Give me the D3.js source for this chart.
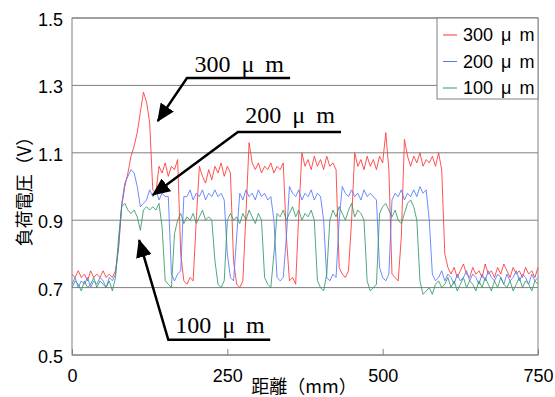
<!DOCTYPE html>
<html>
<head>
<meta charset="utf-8">
<script src="https://cdn.jsdelivr.net/npm/d3@7"></script>
<style>
  body { margin: 0; background: #fff; }
</style>
</head>
<body>
<div id="chart"></div>
<script>
// sample positions along the track, every 5 mm
const distance = d3.range(0, 751, 5);

// load voltage (V)
const v300 = [
  0.74,0.73,0.75,0.73,0.74,0.72,0.75,0.73,0.74,0.73,0.75,0.73,0.74,0.73,0.75,
  0.82,0.94,1.00,1.04,1.09,1.12,1.16,1.22,1.28,1.25,1.19,
  0.99,0.98,1.06,1.04,1.07,1.03,1.06,1.05,1.08,
  0.80,0.72,0.71,0.73,0.72,
  0.90,1.06,1.03,1.01,1.05,1.02,1.06,1.04,1.07,1.03,1.06,1.04,
  0.78,0.71,0.70,0.72,
  0.92,1.13,1.07,1.05,1.07,1.04,1.06,1.05,1.07,1.04,1.06,1.05,1.07,
  0.85,0.72,0.73,0.71,
  0.92,1.10,1.06,1.08,1.05,1.09,1.06,1.08,1.05,1.09,1.06,1.07,1.05,
  0.76,0.74,0.73,0.75,
  0.90,1.10,1.06,1.08,1.05,1.09,1.06,1.08,1.05,1.09,1.07,1.16,1.05,
  0.74,0.73,0.72,
  0.85,1.14,1.09,1.06,1.09,1.07,1.10,1.06,1.08,1.07,1.09,1.06,1.10,1.05,
  0.80,0.76,0.74,0.76,0.73,0.75,0.77,0.74,0.73,0.76,0.74,0.75,0.73,0.77,0.74,0.75,
  0.73,0.76,0.74,0.77,0.75,0.73,0.76,0.74,0.75,0.73,0.76,0.74,0.75,0.73,0.76
];
const v200 = [
  0.71,0.73,0.70,0.72,0.71,0.73,0.70,0.72,0.71,0.73,0.72,0.70,0.73,0.72,0.74,
  0.82,0.95,1.01,1.03,1.05,1.04,1.00,0.94,0.95,0.96,0.99,0.97,0.99,0.96,0.98,0.97,0.97,
  0.74,0.72,0.74,0.75,
  0.97,0.97,0.99,0.96,0.98,0.97,0.99,0.96,0.98,0.97,0.99,0.97,0.98,0.96,
  0.80,0.73,0.72,
  0.85,0.98,0.96,0.99,0.97,0.98,0.96,0.99,0.97,0.98,0.96,0.97,
  0.90,0.73,0.72,0.73,
  0.85,1.00,0.98,0.97,0.99,0.96,0.98,0.97,0.99,0.96,0.98,0.97,0.90,
  0.73,0.72,0.74,0.73,
  0.90,1.00,0.98,0.97,0.99,0.97,0.98,0.96,0.99,0.97,0.98,0.97,0.96,
  0.76,0.73,0.72,0.74,
  0.96,0.98,0.97,0.99,0.96,0.98,0.97,0.99,0.97,1.00,0.98,0.99,0.90,
  0.74,0.72,0.73,0.75,0.72,0.74,0.73,0.71,0.74,0.72,0.73,0.75,0.72,0.74,0.73,0.71,0.74,0.72,
  0.75,0.73,0.72,0.74,0.73,0.71,0.74,0.72,0.73,0.75,0.72,0.74,0.73,0.71,0.74,0.72,0.73
];
const v100 = [
  0.70,0.72,0.71,0.69,0.72,0.70,0.71,0.73,0.70,0.72,0.71,0.70,0.72,0.69,0.73,
  0.85,0.94,0.95,0.93,0.92,0.93,0.91,0.87,0.93,0.94,0.93,0.94,0.93,0.95,
  0.88,0.72,0.71,0.70,
  0.86,0.90,0.92,0.89,0.91,0.90,0.92,0.89,0.91,0.93,0.90,0.91,0.90,
  0.78,0.71,0.70,0.72,
  0.90,0.92,0.90,0.91,0.89,0.92,0.90,0.93,0.91,0.89,0.92,0.90,
  0.73,0.71,0.70,0.80,
  0.92,0.91,0.93,0.90,0.92,0.94,0.91,0.93,0.90,0.92,0.91,0.93,0.90,
  0.72,0.70,0.69,0.74,
  0.90,0.93,0.91,0.94,0.92,0.90,0.93,0.95,0.91,0.93,0.92,0.90,
  0.72,0.69,0.70,0.71,
  0.92,0.94,0.95,0.93,0.91,0.93,0.90,0.89,0.92,0.95,0.96,0.94,0.90,
  0.72,0.68,0.69,0.70,0.68,0.71,0.72,0.70,0.71,0.73,0.70,0.72,0.69,0.71,0.73,0.70,0.72,0.71,0.69,0.72,
  0.70,0.73,0.71,0.69,0.72,0.70,0.73,0.71,0.70,0.72,0.69,0.71,0.73,0.70,0.72,0.71,0.69,0.72,0.71
];

const seriesNames = ['300 μ m', '200 μ m', '100 μ m'];
const seriesColors = ['#ff3535', '#5577ff', '#319966'];
const xTicks = [0, 250, 500, 750];
const yTicks = [0.5, 0.7, 0.9, 1.1, 1.3, 1.5];

// callouts: label start, underline, arrow tip (data units)
const callouts = [
  { text: '300 μ m', x: 197, y: 1.341, lineY: 1.322, x0: 185, x1: 351, tipX: 138, tipY: 1.194 },
  { text: '200 μ m', x: 279, y: 1.188, lineY: 1.162, x0: 267, x1: 433, tipX: 130, tipY: 0.975 },
  { text: '100 μ m', x: 166, y: 0.565, lineY: 0.545, x0: 155, x1: 319, tipX: 108, tipY: 0.841 }
];

const width = 555, height = 397;
const margin = { left: 72, right: 17, top: 18, bottom: 42 };
const innerW = width - margin.left - margin.right;
const innerH = height - margin.top - margin.bottom;

const svg = d3.select('#chart').append('svg')
  .attr('width', width)
  .attr('height', height);

const x = d3.scaleLinear().domain([0, 750]).range([margin.left, margin.left + innerW]);
const y = d3.scaleLinear().domain([0.5, 1.5]).range([margin.top + innerH, margin.top]);

const numFont = '"Liberation Sans", Arial, sans-serif';
const jpFont = '"Noto Sans CJK JP", sans-serif';

// grid lines
svg.append('g')
  .selectAll('line')
  .data(yTicks)
  .enter().append('line')
    .attr('x1', x(0))
    .attr('x2', x(750))
    .attr('y1', d => y(d))
    .attr('y2', d => y(d))
    .attr('stroke', '#808080')
    .attr('stroke-width', 1);

// plot frame
svg.append('rect')
  .attr('x', x(0))
  .attr('y', y(1.5))
  .attr('width', x(750) - x(0))
  .attr('height', y(0.5) - y(1.5))
  .attr('fill', 'none')
  .attr('stroke', '#808080')
  .attr('stroke-width', 1);

// x axis ticks (inside) and labels
const xAxis = svg.append('g')
  .attr('transform', 'translate(0,' + y(0.5) + ')')
  .call(d3.axisBottom(x).tickValues(xTicks).tickSizeInner(-6).tickSizeOuter(0).tickPadding(14));
xAxis.select('.domain').remove();
xAxis.selectAll('line').attr('stroke', '#808080');
xAxis.selectAll('text')
  .attr('font-family', numFont)
  .attr('font-size', 18)
  .attr('fill', '#000');

// y axis labels
const yAxis = svg.append('g')
  .attr('transform', 'translate(' + x(0) + ',0)')
  .call(d3.axisLeft(y).tickValues(yTicks).tickFormat(d3.format('.1f')).tickSize(0).tickPadding(9));
yAxis.select('.domain').remove();
yAxis.selectAll('text')
  .attr('font-family', numFont)
  .attr('font-size', 18)
  .attr('dy', '0.42em')
  .attr('fill', '#000');

// traces
const seriesValues = [v300, v200, v100];
const line = d3.line()
  .x(d => x(d[0]))
  .y(d => y(d[1]));

svg.append('g')
  .selectAll('path')
  .data(seriesValues)
  .enter().append('path')
    .attr('d', vals => line(distance.map((d, i) => [d, vals[i]])))
    .attr('fill', 'none')
    .attr('stroke', (d, i) => seriesColors[i])
    .attr('stroke-width', 1)
    .attr('stroke-opacity', 0.85)
    .attr('stroke-linejoin', 'round');

// axis titles
svg.append('text')
  .attr('x', 304)
  .attr('y', 393)
  .attr('text-anchor', 'middle')
  .attr('font-family', jpFont)
  .attr('font-size', 18)
  .text('距離（mm）');

svg.append('text')
  .attr('transform', 'translate(23,187) rotate(-90)')
  .attr('text-anchor', 'middle')
  .attr('dominant-baseline', 'central')
  .attr('font-family', jpFont)
  .attr('font-size', 18)
  .text('負荷電圧（V）');

// legend
const legend = svg.append('g')
  .attr('transform', 'translate(' + (x(750) - 101) + ',' + y(1.5) + ')');
legend.append('rect')
  .attr('width', 101)
  .attr('height', 81)
  .attr('fill', '#fff')
  .attr('stroke', '#808080');
const items = legend.selectAll('g.item')
  .data(seriesNames)
  .enter().append('g')
    .attr('class', 'item')
    .attr('transform', (d, i) => 'translate(0,' + (17 + i * 26.5) + ')');
items.append('line')
  .attr('x1', 6)
  .attr('x2', 20)
  .attr('stroke', (d, i) => seriesColors[i])
  .attr('stroke-width', 1);
items.append('text')
  .attr('x', 26)
  .attr('dy', '0.36em')
  .attr('font-family', numFont)
  .attr('font-size', 18)
  .attr('word-spacing', 3)
  .text(d => d);

// callout arrows
svg.append('defs').append('marker')
  .attr('id', 'head')
  .attr('markerUnits', 'userSpaceOnUse')
  .attr('viewBox', '0 -8 18 16')
  .attr('markerWidth', 18)
  .attr('markerHeight', 16)
  .attr('refX', 17)
  .attr('refY', 0)
  .attr('orient', 'auto')
  .append('path')
    .attr('d', 'M0,-8L18,0L0,8Z')
    .attr('fill', '#000');

const co = svg.append('g');
co.selectAll('path.leader')
  .data(callouts)
  .enter().append('path')
    .attr('class', 'leader')
    .attr('d', d => 'M' + x(d.x1) + ',' + y(d.lineY) + 'H' + x(d.x0) + 'L' + x(d.tipX) + ',' + y(d.tipY))
    .attr('fill', 'none')
    .attr('stroke', '#000')
    .attr('stroke-width', 2.5)
    .attr('marker-end', 'url(#head)');
co.selectAll('text')
  .data(callouts)
  .enter().append('text')
    .attr('x', d => x(d.x))
    .attr('y', d => y(d.y))
    .attr('font-family', '"Liberation Serif", "Times New Roman", serif')
    .attr('font-size', 24)
    .attr('word-spacing', 5)
    .text(d => d.text);
</script>
</body>
</html>
